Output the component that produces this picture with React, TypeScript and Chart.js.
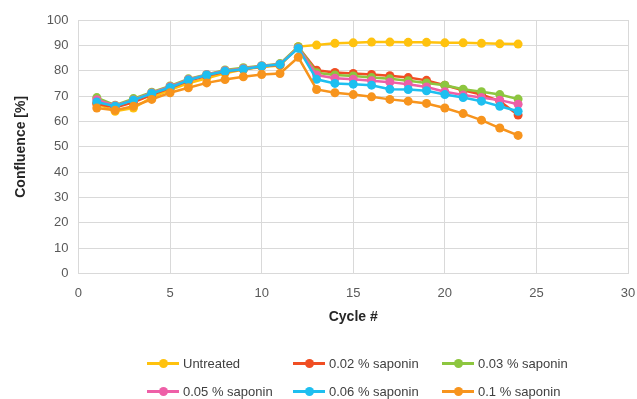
import React, { useEffect, useRef } from "react";
import { Chart, registerables } from "chart.js";

Chart.register(...registerables);

const cycles = [1, 2, 3, 4, 5, 6, 7, 8, 9, 10, 11, 12, 13, 14, 15, 16, 17, 18, 19, 20, 21, 22, 23, 24];

const untreated = [67.0, 64.0, 65.3, 69.5, 72.5, 75.0, 77.0, 79.0, 80.5, 81.5, 82.0, 89.5, 90.1, 90.8, 91.0, 91.3, 91.3, 91.2, 91.2, 91.0, 91.0, 90.8, 90.6, 90.5];
const sap002 = [67.0, 65.5, 67.5, 70.5, 73.2, 76.0, 78.0, 79.6, 80.6, 81.7, 82.3, 89.3, 80.2, 79.3, 78.9, 78.5, 78.0, 77.3, 76.2, 74.3, 72.3, 70.6, 68.0, 62.5];
const sap003 = [69.4, 66.4, 69.0, 71.5, 74.0, 76.8, 78.5, 80.3, 81.2, 82.0, 82.8, 89.5, 79.2, 78.3, 77.9, 77.3, 76.8, 76.0, 75.2, 74.3, 72.7, 71.7, 70.6, 68.8];
const sap005 = [68.6, 66.2, 68.5, 71.2, 73.7, 76.5, 78.4, 80.0, 80.8, 81.9, 82.6, 89.0, 78.3, 77.0, 76.6, 76.0, 75.5, 74.7, 73.6, 71.7, 70.4, 69.4, 68.4, 66.8];
const sap006 = [67.7, 66.0, 68.4, 71.0, 73.4, 76.3, 78.3, 79.8, 80.6, 81.8, 82.5, 88.8, 76.6, 75.0, 74.7, 74.3, 72.7, 72.6, 72.1, 70.6, 69.4, 68.0, 66.0, 64.0];
const sap01 = [65.3, 64.4, 66.0, 68.7, 71.3, 73.3, 75.2, 76.5, 77.6, 78.5, 78.9, 85.3, 72.6, 71.3, 70.6, 69.7, 68.7, 68.0, 67.1, 65.3, 63.1, 60.5, 57.4, 54.5];

const seriesNames = ["Untreated", "0.02 % saponin", "0.03 % saponin", "0.05 % saponin", "0.06 % saponin", "0.1 % saponin"];
const seriesColors = ["#FFC20E", "#F04E23", "#8DC63F", "#EE5FA7", "#1EBFF0", "#F7941D"];
const seriesValues = [untreated, sap002, sap003, sap005, sap006, sap01];

const xTicks = [0, 5, 10, 15, 20, 25, 30];
const yTicks = [0, 10, 20, 30, 40, 50, 60, 70, 80, 90, 100];

const FONT = "'Liberation Sans', Arial, sans-serif";

export default function App() {
  const ref = useRef<HTMLCanvasElement | null>(null);

  useEffect(() => {
    if (!ref.current) return;
    const datasets = seriesValues.map((vals, i) => ({
      label: seriesNames[i],
      data: vals.map((v, j) => ({ x: cycles[j], y: v })),
      borderColor: seriesColors[i],
      backgroundColor: seriesColors[i],
      borderWidth: 2.5,
      pointRadius: 4.5,
      pointBorderWidth: 0,
      pointBackgroundColor: seriesColors[i],
      tension: 0,
      order: seriesValues.length - i,
    }));
    const chart = new Chart(ref.current, {
      type: "line",
      data: { datasets },
      options: {
        animation: false,
        responsive: false,
        maintainAspectRatio: false,
        layout: { padding: { top: 20, right: 9, left: 13, bottom: 73 } },
        plugins: { legend: { display: false }, tooltip: { enabled: false } },
        scales: {
          x: {
            type: "linear",
            min: 0,
            max: 30,
            afterBuildTicks: (axis: any) => {
              axis.ticks = xTicks.map((v) => ({ value: v }));
            },
            afterFit: (axis: any) => {
              axis.paddingRight = 0;
              axis.paddingLeft = 0;
            },
            grid: { color: "#d9d9d9", lineWidth: 1, drawTicks: false },
            border: { color: "#d9d9d9" },
            ticks: { color: "#595959", font: { family: FONT, size: 13 }, padding: 12, maxRotation: 0 },
            title: { display: true, text: "Cycle #", color: "#262626", font: { family: FONT, size: 14, weight: "bold" }, padding: { top: -4, bottom: 0 } },
          },
          y: {
            type: "linear",
            min: 0,
            max: 100,
            afterBuildTicks: (axis: any) => {
              axis.ticks = yTicks.map((v) => ({ value: v }));
            },
            grid: { color: "#d9d9d9", lineWidth: 1, drawTicks: false },
            border: { color: "#d9d9d9" },
            ticks: { color: "#595959", font: { family: FONT, size: 13 }, padding: 10 },
            title: { display: true, text: "Confluence [%]", color: "#262626", font: { family: FONT, size: 14, weight: "bold" }, padding: { top: 0, bottom: 7 } },
          },
        },
      },
    });
    return () => chart.destroy();
  }, []);

  const colLeft = [147, 293, 442];
  const rowTop = [363, 391];

  return (
    <div style={{ position: "fixed", left: 0, top: 0, width: 637, height: 399, background: "#fff", fontFamily: FONT }}>
      <canvas ref={ref} width={637} height={399} style={{ position: "absolute", left: 0, top: 0, width: 637, height: 399 }} />
      {seriesNames.map((name, i) => {
        const left = colLeft[i % 3];
        const cy = rowTop[Math.floor(i / 3)];
        return (
          <div key={name} style={{ position: "absolute", left, top: cy - 10, height: 20, display: "flex", alignItems: "center" }}>
            <div style={{ position: "relative", width: 32, height: 20 }}>
              <div style={{ position: "absolute", left: 0, top: 9, width: 32, height: 2.5, background: seriesColors[i] }} />
              <div style={{ position: "absolute", left: 11.5, top: 5.5, width: 9, height: 9, borderRadius: "50%", background: seriesColors[i] }} />
            </div>
            <span style={{ marginLeft: 4, fontSize: 13, color: "#404040", whiteSpace: "nowrap" }}>{name}</span>
          </div>
        );
      })}
    </div>
  );
}
